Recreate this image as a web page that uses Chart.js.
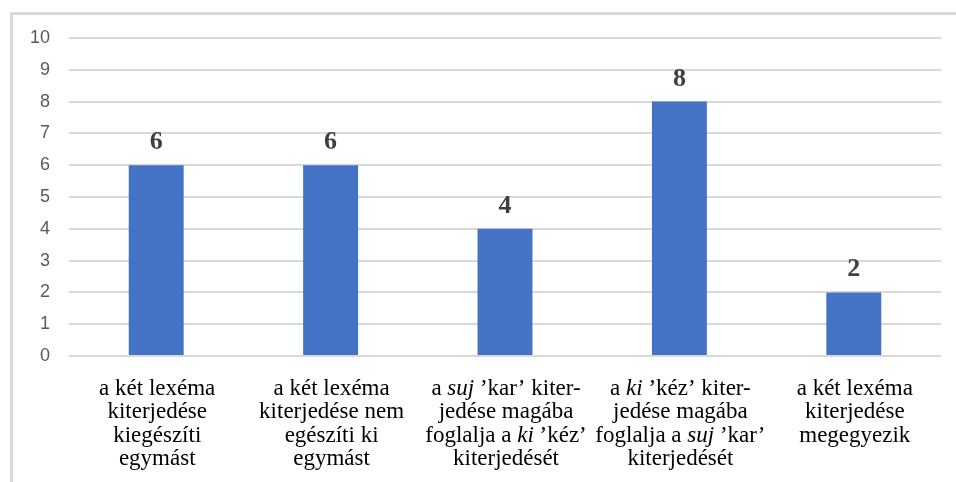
<!DOCTYPE html>
<html>
<head>
<meta charset="utf-8">
<script src="https://cdn.jsdelivr.net/npm/chart.js@4"></script>
<style>
    html, body { margin: 0; padding: 0; background: #fff; overflow: hidden; }
    #frame {
        position: absolute; left: 10px; top: 12px;
        width: 2000px; height: 2000px;
        border: 3px solid #d9d9d9;
    }
    #wrap { position: absolute; left: 0; top: 0; width: 956px; height: 482px; }
</style>
</head>
<body>
<div id="frame"></div>
<div id="wrap"><canvas id="chart" width="956" height="482"></canvas></div>
<script>
// Category labels, one array per line; *text* = italic part
const categories = [
    ["a két lexéma", "kiterjedése", "kiegészíti", "egymást"],
    ["a két lexéma", "kiterjedése nem", "egészíti ki", "egymást"],
    ["a *suj* ’kar’ kiter-", "jedése magába", "foglalja a *ki* ’kéz’", "kiterjedését"],
    ["a *ki* ’kéz’ kiter-", "jedése magába", "foglalja a *suj* ’kar’", "kiterjedését"],
    ["a két lexéma", "kiterjedése", "megegyezik"]
];
const values = [6, 6, 4, 8, 2];
const yTicks = [0, 1, 2, 3, 4, 5, 6, 7, 8, 9, 10];

const serif = '"Liberation Serif", "Times New Roman", serif';

// Draws the bold value above every bar
const valueLabels = {
    id: "valueLabels",
    afterDatasetsDraw(chart) {
        const ctx = chart.ctx;
        const meta = chart.getDatasetMeta(0);
        ctx.save();
        ctx.font = "bold 26px " + serif;
        ctx.fillStyle = "#404040";
        ctx.textAlign = "center";
        ctx.textBaseline = "alphabetic";
        meta.data.forEach((bar, i) => {
            ctx.fillText(String(values[i]), bar.x, bar.y - 16);
        });
        ctx.restore();
    }
};

// Draws multi line category labels with italic parts
const categoryLabels = {
    id: "categoryLabels",
    afterDraw(chart) {
        const ctx = chart.ctx;
        const xScale = chart.scales.x;
        const bottom = chart.chartArea.bottom;
        const normal = "23px " + serif;
        const italic = "italic 23px " + serif;
        ctx.save();
        ctx.fillStyle = "#000";
        ctx.textAlign = "left";
        ctx.textBaseline = "alphabetic";
        categories.forEach((lines, i) => {
            const cx = xScale.getPixelForValue(i) + 1;
            lines.forEach((line, j) => {
                const parts = line.split("*");
                let total = 0;
                parts.forEach((p, k) => {
                    ctx.font = k % 2 ? italic : normal;
                    total += ctx.measureText(p).width;
                });
                let x = cx - total / 2;
                const y = bottom + 39 + j * 23.3;
                parts.forEach((p, k) => {
                    ctx.font = k % 2 ? italic : normal;
                    ctx.fillText(p, x, y);
                    x += ctx.measureText(p).width;
                });
            });
        });
        ctx.restore();
    }
};

const config = {
    type: "bar",
    data: {
        labels: categories.map((c, i) => i),
        datasets: [{
            data: values,
            backgroundColor: "#4472c4",
            borderWidth: 0,
            categoryPercentage: 0.315,
            barPercentage: 1
        }]
    },
    options: {
        responsive: false,
        animation: false,
        layout: { padding: { left: 0, top: 38, right: 15, bottom: 126 } },
        plugins: {
            legend: { display: false },
            tooltip: { enabled: false }
        },
        scales: {
            x: {
                grid: { display: false },
                border: { display: false },
                ticks: { display: false },
                afterFit(scale) { scale.height = 0; }
            },
            y: {
                min: 0,
                max: 10,
                afterBuildTicks(scale) { scale.ticks = yTicks.map(v => ({ value: v })); },
                afterFit(scale) { scale.width = 69; },
                border: { display: false },
                grid: { color: "#d9d9d9", lineWidth: 2, drawTicks: false },
                ticks: {
                    padding: 19,
                    color: "#595959",
                    font: { family: '"Liberation Sans", Arial, sans-serif', size: 18 }
                }
            }
        }
    },
    plugins: [valueLabels, categoryLabels]
};

new Chart(document.getElementById("chart"), config);
</script>
</body>
</html>
